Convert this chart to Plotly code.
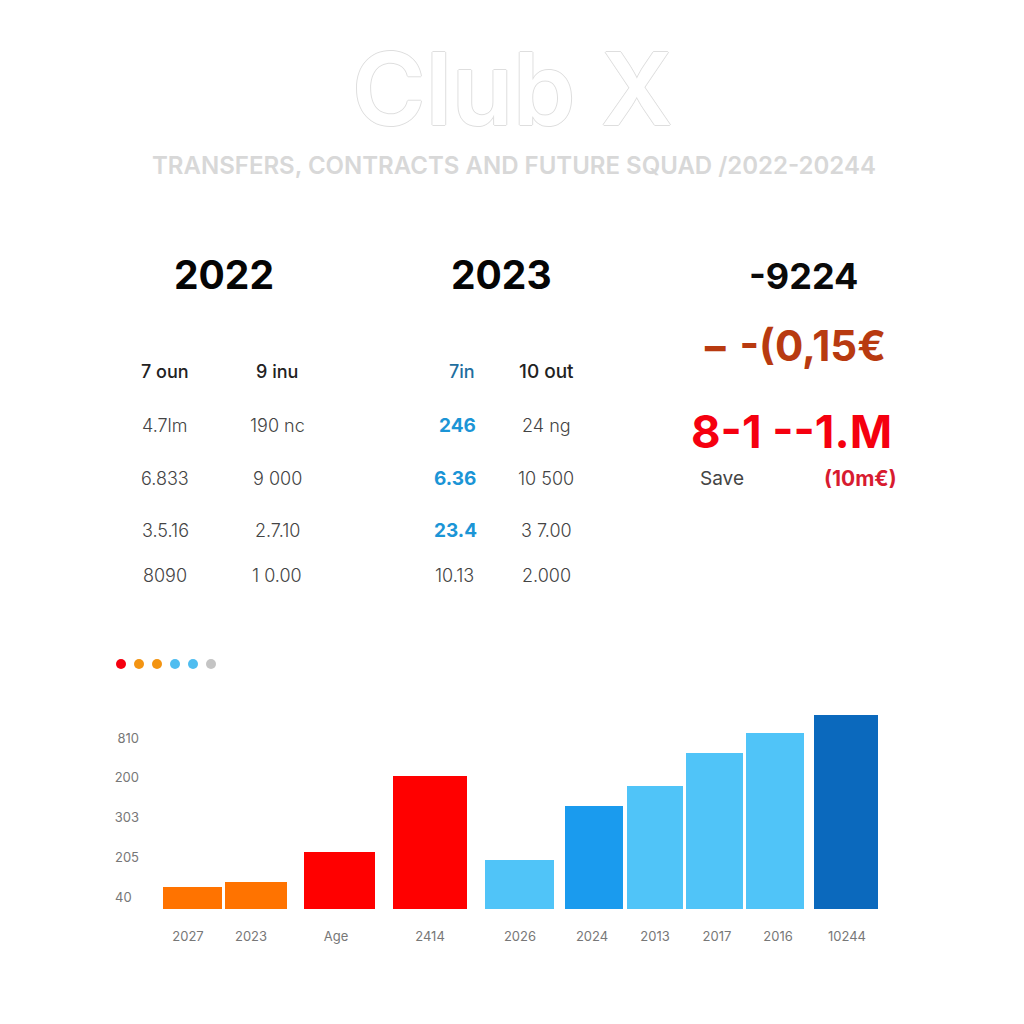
# Club X: cuadro de traspasos y barras por temporada
import plotly.graph_objects as go

W, H = 1024, 1024

# ---------------------------------------------------------------------------
# Datos
# ---------------------------------------------------------------------------
titulo = "Club X"
subtitulo = "TRANSFERS, CONTRACTS AND FUTURE SQUAD /2022-20244"
anios = ["2022", "2023"]
resumen_anio = "-9224"
resumen_importe = "− -(0,15€"
resumen_rango = "8-1 --1.M"
save_label = "Save"
save_valor = "(10m€)"

col_2022_a = ["7 oun", "4.7lm", "6.833", "3.5.16", "8090"]
col_2022_b = ["9 inu", "190 nc", "9 000", "2.7.10", "1 0.00"]
col_2023_a = ["7in", "246", "6.36", "23.4", "10.13"]
col_2023_b = ["10 out", "24 ng", "10 500", "3 7.00", "2.000"]

dot_colores = ["#f5000f", "#f39412", "#f39412", "#4fbdf0", "#4fbdf0", "#c4c4c4"]

bar_labels = ["2027", "2023", "Age", "2414", "2026", "2024", "2013", "2017", "2016", "10244"]
bar_valores = [22, 27, 57, 133, 49, 103, 123, 156, 176, 194]
bar_colores = ["#ff7300", "#ff7300", "#ff0000", "#ff0000", "#50c4f8",
               "#1a9bee", "#50c4f8", "#50c4f8", "#50c4f8", "#0b69bd"]
y_ticks = [171, 132, 92, 52, 12]
y_labels = ["810", "200", "303", "205", "40\u00a0\u00a0"]

# Geometría de la gráfica (eje x en unidades de pantalla)
bar_centros = [192.5, 256, 339.5, 430, 519.5, 594, 655, 714.5, 775, 846]
bar_anchos = [59, 62, 71, 74, 69, 58, 56, 57, 58, 64]
label_pos = [188, 251, 336, 430, 520, 592, 655, 717, 778, 847]

# Posiciones del texto
fila_y = [371, 425, 478, 530, 575]
col_x = [165, 277, 546]
col_x_2023_a = [462, 457, 455, 455, 454]


def px(x, y):
    return x / W, 1 - y / H


def texto(fig, x, y, s, size, color, weight=400, font="Inter", **kw):
    xp, yp = px(x, y)
    fig.add_annotation(
        x=xp, y=yp, xref="paper", yref="paper", text=s, showarrow=False,
        xanchor="center", yanchor="middle",
        font=dict(family=font, size=size, color=color, weight=weight, **kw),
    )


fig = go.Figure()

fig.add_trace(go.Bar(
    x=bar_centros, y=bar_valores, width=bar_anchos,
    marker=dict(color=bar_colores, line=dict(width=0)),
    showlegend=False,
))
fig.add_trace(go.Scatter(
    x=list(range(len(dot_colores))), y=[0] * len(dot_colores),
    mode="markers", xaxis="x2", yaxis="y2", showlegend=False,
    marker=dict(color=dot_colores, size=10, line=dict(width=0)),
))

# Cabecera
texto(fig, 512, 88, titulo, 100, "#ffffff", 600,
      shadow="1px 0 #dedede, -1px 0 #dedede, 0 1px #dedede, 0 -1px #dedede")
texto(fig, 514, 165, subtitulo, 24, "#d8d8d8", 600)

# Columnas
texto(fig, 224, 274, anios[0], 39, "#050505", 700)
texto(fig, 501, 274, anios[1], 39, "#050505", 700)
for i, y in enumerate(fila_y):
    oscuro = i == 0
    tinta = "#222222" if oscuro else "#444444"
    peso = 500 if oscuro else 300
    texto(fig, col_x[0], y, col_2022_a[i], 18, tinta, peso)
    texto(fig, col_x[1], y, col_2022_b[i], 18, tinta, peso)
    if i == 0:
        texto(fig, col_x_2023_a[i], y, col_2023_a[i], 18, "#1f6f9f", 500)
    elif i == 4:
        texto(fig, col_x_2023_a[i], y, col_2023_a[i], 18, tinta, peso)
    else:
        texto(fig, col_x_2023_a[i], y, col_2023_a[i], 19, "#1b95d6", 700)
    texto(fig, col_x[2], y, col_2023_b[i], 19 if oscuro else 18, tinta, peso)

# Resumen
texto(fig, 803, 276, resumen_anio, 36, "#0a0a0a", 700)
texto(fig, 793, 345, resumen_importe, 42, "#b83a10", 700)
texto(fig, 791, 431, resumen_rango, 45.5, "#f5000f", 700)
texto(fig, 722, 478, save_label, 19, "#444444", 400)
texto(fig, 860, 478, save_valor, 21, "#d81b30", 700)

fig.update_layout(
    width=W, height=H, margin=dict(l=0, r=0, t=0, b=0),
    paper_bgcolor="white", plot_bgcolor="white", bargap=0,
    xaxis=dict(
        domain=[140 / W, 900 / W], range=[140, 900], anchor="y",
        tickmode="array", tickvals=label_pos, ticktext=bar_labels,
        showgrid=False, zeroline=False, showline=False, ticks="",
        tickfont=dict(family="Inter", size=13, color="#777777"),
        ticklabelstandoff=18,
    ),
    yaxis=dict(
        domain=[1 - 909 / H, 1 - 700 / H], range=[0, 209], anchor="x",
        tickmode="array", tickvals=y_ticks, ticktext=y_labels,
        showgrid=False, zeroline=False, showline=False, ticks="",
        tickfont=dict(family="Inter", size=13, color="#777777"),
    ),
    xaxis2=dict(domain=[112 / W, 220 / W], range=[-0.5, 5.5], anchor="y2", visible=False),
    yaxis2=dict(domain=[1 - 674 / H, 1 - 654 / H], range=[-1, 1], anchor="x2", visible=False),
)

fig.write_html("out.html", config={"displayModeBar": False},
               post_script="document.body.style.margin='0';")
